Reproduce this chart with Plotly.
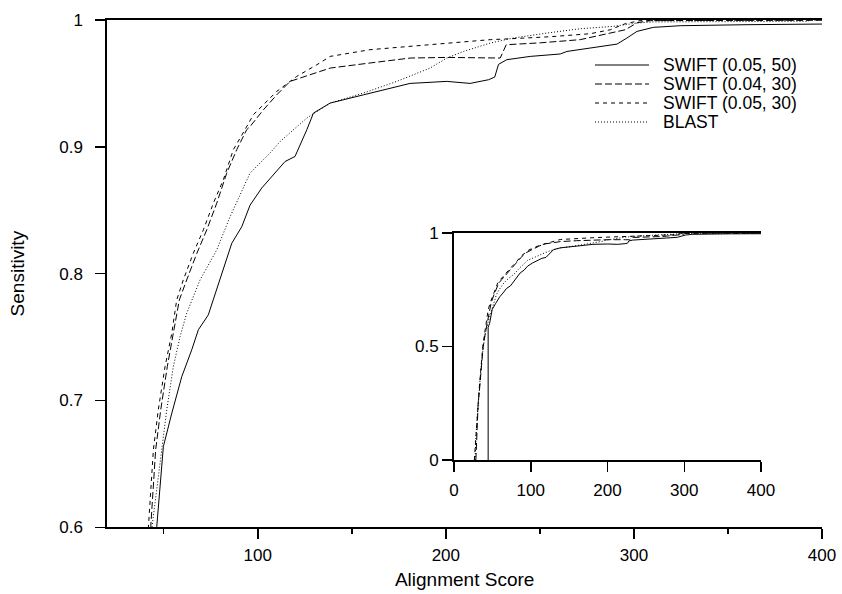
import plotly.graph_objects as go

# ---- data ----
series_names = ["SWIFT (0.05, 50)", "SWIFT (0.04, 30)", "SWIFT (0.05, 30)", "BLAST"]

swift_05_50_x = [44.5, 44.5, 46.3, 49.8, 54.3, 59.6, 64.9, 68.4, 73.7, 79.9, 86.2, 91.5, 95.9, 102.1,
                 106.5, 114.5, 119.8, 123.4, 126.1, 129.6, 138.5, 156.2, 181.0, 200.5, 212.9, 222.7,
                 226.0, 228.0, 232.4, 244.9, 260.8, 264.4, 276.8, 291.0, 296.3, 301.6, 310.3, 324.6,
                 360.1, 400.0]
swift_05_50_y = [0.0, 0.585, 0.6005, 0.6636, 0.690, 0.7188, 0.740, 0.7557, 0.7675, 0.795, 0.824, 0.837,
                 0.854, 0.8675, 0.875, 0.8884, 0.8924, 0.904, 0.9135, 0.9266, 0.9345, 0.941, 0.950,
                 0.9516, 0.950, 0.9529, 0.955, 0.965, 0.9687, 0.9713, 0.9732, 0.9752, 0.9779, 0.981,
                 0.9858, 0.991, 0.9942, 0.9955, 0.9963, 0.9968]

swift_04_30_x = [28.5, 29.0, 30.0, 31.5, 33.5, 36.0, 38.0, 40.8, 43.1, 45.7, 48.4, 51.9, 55.1, 58.3,
                 62.2, 67.6, 72.9, 78.2, 83.5, 88.8, 94.1, 95.9, 103.0, 110.1, 117.2, 131.4, 138.5,
                 159.7, 181.0, 200.5, 223.6, 228.9, 232.1, 250.2, 271.4, 287.4, 295.4, 301.8, 308.7,
                 400.0]
swift_04_30_y = [0.0, 0.05, 0.15, 0.25, 0.32, 0.42, 0.50, 0.56, 0.6005, 0.661, 0.6925, 0.7267, 0.753,
                 0.7793, 0.795, 0.816, 0.8346, 0.8556, 0.8793, 0.8977, 0.9135, 0.916, 0.9292, 0.941,
                 0.9516, 0.9582, 0.9621, 0.9661, 0.970, 0.9705, 0.9705, 0.970, 0.9805, 0.982, 0.9845,
                 0.990, 0.9923, 0.9979, 0.9995, 0.9998]

swift_05_30_x = [26.5, 27.5, 29.0, 31.0, 33.0, 35.5, 37.5, 40.0, 41.8, 44.5, 47.1, 50.7, 54.3, 56.9,
                 60.4, 65.7, 71.1, 76.4, 81.7, 87.0, 93.2, 97.7, 110.1, 120.7, 131.4, 138.5, 159.7,
                 181.0, 200.5, 223.6, 234.2, 255.5, 276.8, 287.4, 295.4, 303.3, 400.0]
swift_05_30_y = [0.0, 0.05, 0.15, 0.25, 0.32, 0.42, 0.50, 0.56, 0.6005, 0.661, 0.6925, 0.7267, 0.753,
                 0.7793, 0.795, 0.816, 0.8346, 0.8556, 0.874, 0.8977, 0.9135, 0.9254, 0.9437, 0.9555,
                 0.9647, 0.9713, 0.9766, 0.9792, 0.9819, 0.9845, 0.9852, 0.9868, 0.9892, 0.9923,
                 0.9971, 0.9995, 1.0]

blast_x = [27.5, 28.5, 30.5, 32.5, 35.0, 37.5, 40.5, 43.8, 48.9, 51.6, 55.1, 58.7, 62.2, 64.9, 69.3,
           78.2, 85.3, 95.9, 106.5, 111.9, 118.9, 126.1, 138.5, 156.2, 173.9, 191.6, 200.5, 209.4,
           223.6, 235.8, 253.7, 271.4, 289.1, 301.6, 310.3, 342.2, 393.0]
blast_y = [0.0, 0.10, 0.20, 0.30, 0.40, 0.48, 0.55, 0.6005, 0.661, 0.6925, 0.7267, 0.7504, 0.7688,
           0.7793, 0.795, 0.8188, 0.845, 0.8793, 0.8951, 0.9042, 0.9135, 0.9227, 0.9345, 0.9424,
           0.9516, 0.9621, 0.970, 0.9752, 0.9818, 0.9858, 0.9897, 0.9931, 0.995, 0.9976, 0.9985,
           0.9988, 0.999]

series_x = [swift_05_50_x, swift_04_30_x, swift_05_30_x, blast_x]
series_y = [swift_05_50_y, swift_04_30_y, swift_05_30_y, blast_y]
series_dash = ["solid", "7px,3px", "4px,4px", "1px,2px"]

main_x_ticks = [100, 200, 300, 400]
main_x_minor = [50, 150, 250, 350]
main_y_ticks = [0.6, 0.7, 0.8, 0.9, 1.0]
main_y_text = ["0.6", "0.7", "0.8", "0.9", "1"]
inset_x_ticks = [0, 100, 200, 300, 400]
inset_y_ticks = [0, 0.5, 1]
inset_y_text = ["0", "0.5", "1"]

FONT = "Liberation Sans, Arial, Helvetica, sans-serif"
# page body margin is removed in the written page, so the figure fills the window
W, H = 842, 594


def px(x):
    return x / W


def py(y):
    return 1 - y / H


fig = go.Figure()
for name, xs, ys, dash in zip(series_names, series_x, series_y, series_dash):
    fig.add_trace(go.Scatter(x=xs, y=ys, mode="lines", name=name, showlegend=False,
                             line=dict(color="black", width=1, dash=dash),
                             xaxis="x", yaxis="y"))
for name, xs, ys, dash in zip(series_names, series_x, series_y, series_dash):
    fig.add_trace(go.Scatter(x=xs, y=ys, mode="lines", name=name, showlegend=False,
                             line=dict(color="black", width=1, dash=dash),
                             xaxis="x2", yaxis="y2"))

# ---- legend drawn as line samples + text ----
leg_x0, leg_x1, leg_tx = 595, 649, 662
leg_rows = [65, 84, 103, 122]
for name, dash, ry in zip(series_names, series_dash, leg_rows):
    fig.add_shape(type="line", xref="paper", yref="paper",
                  x0=px(leg_x0), x1=px(leg_x1), y0=py(ry), y1=py(ry),
                  line=dict(color="black", width=1, dash=dash))
    fig.add_annotation(xref="paper", yref="paper", x=px(leg_tx), y=py(ry),
                       xanchor="left", yanchor="middle", showarrow=False,
                       borderpad=0,
                       text=name, font=dict(family=FONT, size=17.5, color="black"))

axis_common = dict(showgrid=False, zeroline=False, showline=True, linecolor="black",
                   linewidth=2, ticks="outside", tickcolor="black", tickwidth=1.5,
                   automargin=False, ticklabeloverflow="allow",
                   tickfont=dict(family=FONT, size=17, color="black"))

fig.update_layout(
    width=W, height=H,
    margin=dict(l=0, r=0, t=0, b=0, autoexpand=False),
    paper_bgcolor="white", plot_bgcolor="white",
    font=dict(family=FONT, size=17, color="black"),
    showlegend=False,
    hovermode=False,
    xaxis=dict(domain=[px(107.3), px(822)], range=[20, 400], anchor="y",
               tickvals=main_x_ticks, ticklen=10, mirror=True,
               minor=dict(tickvals=main_x_minor, ticklen=5, ticks="outside",
                          tickcolor="black", tickwidth=1.5),
               ticklabelstandoff=1,
               title=dict(text="Alignment Score", standoff=9,
                          font=dict(family=FONT, size=19)),
               **axis_common),
    yaxis=dict(domain=[py(527.3), py(20)], range=[0.6, 1.0], anchor="x",
               tickvals=main_y_ticks, ticktext=main_y_text, ticklen=10,
               ticklabelstandoff=9,
               title=dict(text="Sensitivity", standoff=30,
                          font=dict(family=FONT, size=19)),
               **axis_common),
    xaxis2=dict(domain=[px(454), px(761)], range=[0, 400], anchor="y2",
                tickvals=inset_x_ticks, ticklen=10, mirror=True,
                ticklabelstandoff=4, **axis_common),
    yaxis2=dict(domain=[py(460), py(233)], range=[0, 1], anchor="x2",
                tickvals=inset_y_ticks, ticktext=inset_y_text, ticklen=10,
                ticklabelstandoff=0, **axis_common),
)

fig.write_html("out.html",
               config={"displayModeBar": False, "staticPlot": True},
               post_script="document.body.style.margin='0';"
                           "document.body.style.overflow='hidden';")
